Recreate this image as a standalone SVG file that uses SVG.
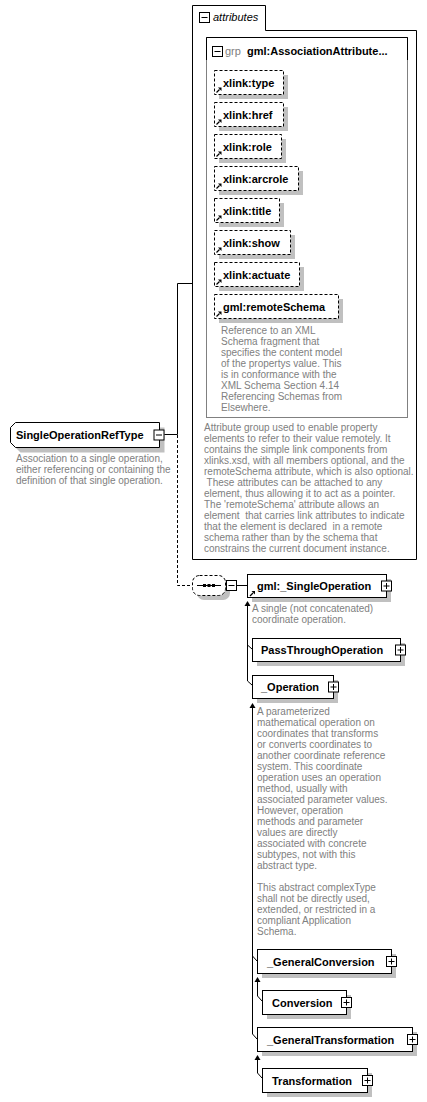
<svg xmlns="http://www.w3.org/2000/svg" width="427" height="1102" viewBox="0 0 427 1102">
<style>
text{font-family:"Liberation Sans",Arial,sans-serif;}
.lbl{font-size:11px;font-weight:bold;fill:#000;}
.doc{font-size:10px;fill:#808080;white-space:pre;}
.box{fill:#fff;stroke:#000;stroke-width:1;}
.shd{fill:#c0c0c0;stroke:none;}
.att{fill:#fff;stroke:#000;stroke-width:1;stroke-dasharray:3,2;}
.ln{fill:none;stroke:#000;stroke-width:1;}
.dln{fill:none;stroke:#000;stroke-width:1;stroke-dasharray:3,2;}
.pm{fill:#fff;stroke:#000;stroke-width:1;}
</style>
<defs>
<g id="plus"><rect class="pm" x="-5" y="-5" width="10" height="10"/><path class="ln" d="M-3,0 H3 M0,-3 V3"/></g>
<g id="minus"><rect class="pm" x="-5" y="-5" width="10" height="10"/><path class="ln" d="M-3,0 H3"/></g>
<g id="ref"><path d="M0.5,5 L3.5,2" stroke="#000" stroke-width="1.2" fill="none"/><path d="M2,0 H5.5 V3.5 Z" fill="#000"/></g>
<polygon id="arr" points="0,0 -3,5 3,5" fill="#000"/>
</defs>

<g id="attributes">
<path class="ln" d="M192.5,5.5 H265.5 V30.5 H416.5 V559.5 H192.5 Z" fill="#fff"/>
<use href="#minus" x="204.5" y="17.5"/>
<text x="213" y="21" style="font-size:11px;font-style:italic;fill:#000">attributes</text>
<text class="doc" xml:space="preserve"><tspan x="204" y="431">Attribute group used to enable property</tspan><tspan x="204" y="442">elements to refer to their value remotely. It</tspan><tspan x="204" y="453">contains the simple link components from</tspan><tspan x="204" y="464">xlinks.xsd, with all members optional, and the</tspan><tspan x="204" y="475">remoteSchema attribute, which is also optional.</tspan><tspan x="204" y="486"> These attributes can be attached to any</tspan><tspan x="204" y="497">element, thus allowing it to act as a pointer.</tspan><tspan x="204" y="508">The 'remoteSchema' attribute allows an</tspan><tspan x="204" y="519">element  that carries link attributes to indicate</tspan><tspan x="204" y="530">that the element is declared  in a remote</tspan><tspan x="204" y="541">schema rather than by the schema that</tspan><tspan x="204" y="552">constrains the current document instance.</tspan></text>
</g>

<g id="grp-AssociationAttributeGroup">
<rect x="206.5" y="37.5" width="201" height="380" fill="#fff" stroke="#808080"/>
<path class="ln" d="M206.5,60 V37.5 H407.5 V60"/>
<use href="#minus" x="217.5" y="51.5"/>
<text x="225" y="55" style="font-size:11px;fill:#808080">grp</text>
<text class="lbl" x="247" y="55">gml:AssociationAttribute...</text>
</g>

<g id="xlink-type"><rect class="shd" x="219" y="75" width="69" height="24"/><rect class="att" x="214.5" y="70.5" width="69" height="24"/><use href="#ref" x="216" y="87.5"/><text class="lbl" x="223" y="86.5">xlink:type</text></g>
<g id="xlink-href"><rect class="shd" x="219" y="107" width="69" height="24"/><rect class="att" x="214.5" y="102.5" width="69" height="24"/><use href="#ref" x="216" y="119.5"/><text class="lbl" x="223" y="118.5">xlink:href</text></g>
<g id="xlink-role"><rect class="shd" x="219" y="139" width="67" height="24"/><rect class="att" x="214.5" y="134.5" width="67" height="24"/><use href="#ref" x="216" y="151.5"/><text class="lbl" x="223" y="150.5">xlink:role</text></g>
<g id="xlink-arcrole"><rect class="shd" x="219" y="171" width="84" height="24"/><rect class="att" x="214.5" y="166.5" width="84" height="24"/><use href="#ref" x="216" y="183.5"/><text class="lbl" x="223" y="182.5">xlink:arcrole</text></g>
<g id="xlink-title"><rect class="shd" x="219" y="203" width="65" height="24"/><rect class="att" x="214.5" y="198.5" width="65" height="24"/><use href="#ref" x="216" y="215.5"/><text class="lbl" x="223" y="214.5">xlink:title</text></g>
<g id="xlink-show"><rect class="shd" x="219" y="235" width="76" height="24"/><rect class="att" x="214.5" y="230.5" width="76" height="24"/><use href="#ref" x="216" y="247.5"/><text class="lbl" x="223" y="246.5">xlink:show</text></g>
<g id="xlink-actuate"><rect class="shd" x="219" y="267" width="85" height="24"/><rect class="att" x="214.5" y="262.5" width="85" height="24"/><use href="#ref" x="216" y="279.5"/><text class="lbl" x="223" y="278.5">xlink:actuate</text></g>
<g id="gml-remoteSchema"><rect class="shd" x="219" y="299" width="124" height="24"/><rect class="att" x="214.5" y="294.5" width="124" height="24"/><use href="#ref" x="216" y="311.5"/><text class="lbl" x="223" y="310.5">gml:remoteSchema</text>
<text class="doc"><tspan x="221" y="333.5">Reference to an XML</tspan><tspan x="221" y="344.5">Schema fragment that</tspan><tspan x="221" y="355.5">specifies the content model</tspan><tspan x="221" y="366.5">of the propertys value. This</tspan><tspan x="221" y="377.5">is in conformance with the</tspan><tspan x="221" y="388.5">XML Schema Section 4.14</tspan><tspan x="221" y="399.5">Referencing Schemas from</tspan><tspan x="221" y="410.5">Elsewhere.</tspan></text></g>

<g id="connectors">
<path class="ln" d="M164,434.5 H177.5 V283.5 H192.5"/>
<path class="dln" d="M177.5,435 V585.5 H192"/>
<path class="ln" d="M236.5,585.5 H247.5"/>
<path class="ln" d="M247.5,605 V681 L252,685 M247.5,645 L252,649"/>
<use href="#arr" x="247.5" y="601"/>
<path class="ln" d="M252.5,707 V1034 L257,1039 M252.5,956 L257,961"/>
<use href="#arr" x="252.5" y="703"/>
<path class="ln" d="M257.5,981 V996 L262,1001"/>
<use href="#arr" x="257.5" y="977"/>
<path class="ln" d="M257.5,1059 V1073 L262,1078"/>
<use href="#arr" x="257.5" y="1055"/>
</g>

<g id="SingleOperationRefType">
<path class="shd" d="M20.5,427.5 H164.5 V452.5 H20.5 L15.5,447.5 V432.5 Z"/>
<path class="box" d="M15.5,422.5 H159.5 V447.5 H15.5 L10.5,442.5 V427.5 Z"/>
<text class="lbl" x="16" y="439">SingleOperationRefType</text>
<use href="#minus" x="159" y="435"/>
<text class="doc"><tspan x="16" y="462">Association to a single operation,</tspan><tspan x="16" y="473">either referencing or containing the</tspan><tspan x="16" y="484">definition of that single operation.</tspan></text>
</g>

<g id="sequence">
<rect class="shd" x="197" y="580" width="33" height="20" rx="7"/>
<rect class="att" x="192.5" y="575.5" width="33" height="20" rx="7"/>
<path class="ln" d="M197,585.5 H221"/>
<rect x="203" y="584" width="3" height="3" fill="#000"/><rect x="207.5" y="584" width="3" height="3" fill="#000"/><rect x="212" y="584" width="3" height="3" fill="#000"/>
<use href="#minus" x="231.5" y="585.5"/>
</g>

<g id="gml-_SingleOperation">
<rect class="shd" x="252" y="579" width="139" height="23"/>
<rect class="box" x="247.5" y="574.5" width="139" height="23"/>
<use href="#ref" x="249.5" y="591"/>
<text class="lbl" x="257" y="590">gml:_SingleOperation</text>
<use href="#plus" x="386.5" y="586"/>
<text class="doc"><tspan x="252" y="612">A single (not concatenated)</tspan><tspan x="252" y="623">coordinate operation.</tspan></text>
</g>

<g id="PassThroughOperation">
<rect class="shd" x="257" y="643" width="148" height="23"/>
<rect class="box" x="252.5" y="638.5" width="148" height="23"/>
<text class="lbl" x="261" y="654">PassThroughOperation</text>
<use href="#plus" x="400.5" y="650"/>
</g>

<g id="_Operation">
<rect class="shd" x="257" y="680" width="81" height="23"/>
<rect class="box" x="252.5" y="675.5" width="81" height="23"/>
<text class="lbl" x="261" y="691">_Operation</text>
<use href="#plus" x="333.5" y="687"/>
<text class="doc"><tspan x="257" y="715">A parameterized</tspan><tspan x="257" y="726">mathematical operation on</tspan><tspan x="257" y="737">coordinates that transforms</tspan><tspan x="257" y="748">or converts coordinates to</tspan><tspan x="257" y="759">another coordinate reference</tspan><tspan x="257" y="770">system. This coordinate</tspan><tspan x="257" y="781">operation uses an operation</tspan><tspan x="257" y="792">method, usually with</tspan><tspan x="257" y="803">associated parameter values.</tspan><tspan x="257" y="814">However, operation</tspan><tspan x="257" y="825">methods and parameter</tspan><tspan x="257" y="836">values are directly</tspan><tspan x="257" y="847">associated with concrete</tspan><tspan x="257" y="858">subtypes, not with this</tspan><tspan x="257" y="869">abstract type.</tspan><tspan x="257" y="891">This abstract complexType</tspan><tspan x="257" y="902">shall not be directly used,</tspan><tspan x="257" y="913">extended, or restricted in a</tspan><tspan x="257" y="924">compliant Application</tspan><tspan x="257" y="935">Schema.</tspan></text>
</g>

<g id="_GeneralConversion">
<rect class="shd" x="262" y="954" width="134" height="24"/>
<rect class="box" x="257.5" y="949.5" width="134" height="24"/>
<text class="lbl" x="267" y="965.5">_GeneralConversion</text>
<use href="#plus" x="391.5" y="961.5"/>
</g>

<g id="Conversion">
<rect class="shd" x="267" y="995" width="84" height="24"/>
<rect class="box" x="262.5" y="990.5" width="84" height="24"/>
<text class="lbl" x="272" y="1006.5">Conversion</text>
<use href="#plus" x="346.5" y="1002.5"/>
</g>

<g id="_GeneralTransformation">
<rect class="shd" x="262" y="1032" width="155" height="24"/>
<rect class="box" x="257.5" y="1027.5" width="155" height="24"/>
<text class="lbl" x="267" y="1043.5">_GeneralTransformation</text>
<use href="#plus" x="412.5" y="1039.5"/>
</g>

<g id="Transformation">
<rect class="shd" x="267" y="1073" width="105" height="24"/>
<rect class="box" x="262.5" y="1068.5" width="105" height="24"/>
<text class="lbl" x="272" y="1084.5">Transformation</text>
<use href="#plus" x="367.5" y="1080.5"/>
</g>
</svg>
